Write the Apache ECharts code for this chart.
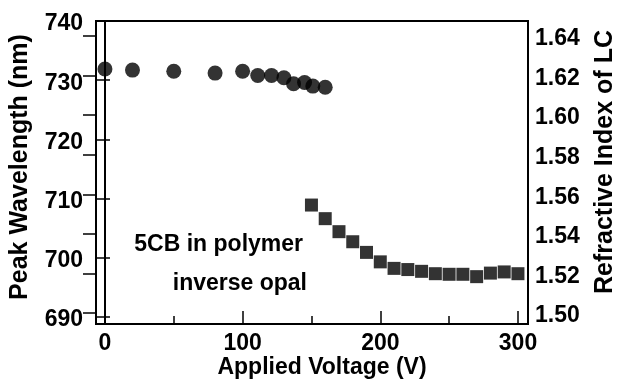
<!DOCTYPE html>
<html>
<head>
<meta charset="utf-8">
<script src="https://cdn.jsdelivr.net/npm/echarts@6/dist/echarts.min.js"></script>
<style>
html,body{margin:0;padding:0;background:#fff;}
#c{width:618px;height:382px;}
</style>
</head>
<body>
<div id="c"></div>
<script>
// Peak wavelength (nm) vs applied voltage (V)
const circleVoltage = [0, 20, 50, 80, 100, 111, 121, 130, 137, 145, 151, 160];
const circleWavelength = [731.9, 731.7, 731.5, 731.2, 731.5, 730.8, 730.8, 730.4, 729.4, 729.6, 729.0, 728.8];
const squareVoltage = [150, 160, 170, 180, 190, 200, 210, 220, 230, 240, 250, 260, 270, 280, 290, 300];
const squareWavelength = [708.9, 706.6, 704.4, 702.7, 700.9, 699.3, 698.2, 698.0, 697.7, 697.3, 697.2, 697.2, 696.8, 697.4, 697.6, 697.3];
// tick label ranges
const xTickRange = [0, 300, 100];        // min, max, interval
const leftTickRange = [690, 740, 10];
const rightTickRange = [1.50, 1.64, 0.02];
const xTitle = 'Applied Voltage (V)';
const leftTitle = 'Peak Wavelength (nm)';
const rightTitle = 'Refractive Index of LC';

const FONT = 'Liberation Sans';
const chart = echarts.init(document.getElementById('c'), null, {renderer: 'canvas'});

const labelStyle = {color: '#000', fontFamily: FONT, fontWeight: 'bold', fontSize: 23};
const hidden = (gi) => ({gridIndex: gi, type: 'value', show: false, min: 0, max: 1});
const tickLine = {color: '#000', width: 1.5};
const titleText = (text, x, y, rot, size) => ({
  type: 'text', x: x, y: y, rotation: rot,
  style: {text: text, fill: '#000', font: 'bold ' + size + 'px "Liberation Sans"', align: 'center', verticalAlign: 'middle'}
});

chart.setOption({
  animation: false,
  backgroundColor: '#fff',
  grid: [
    {left: 96, right: 90, top: 21, bottom: 58, show: true, borderColor: '#000', borderWidth: 2, backgroundColor: 'transparent'},
    {left: 96, right: 90, top: 21, bottom: 65},   // left ticks
    {left: 96, right: 90, top: 36, bottom: 69},   // right ticks
    {left: 105, right: 100, top: 21, bottom: 58}, // x ticks
    {left: 96, right: 90, top: 24, bottom: 62},   // left labels
    {left: 96, right: 90, top: 39, bottom: 66}    // right labels
  ],
  xAxis: [{
    gridIndex: 0, type: 'value', min: -6.5, max: 307.3,
    axisLine: {show: true, lineStyle: {color: '#000', width: 2}},
    axisTick: {show: false}, axisLabel: {show: false}, splitLine: {show: false}
  },
  hidden(1), hidden(2),
  {
    gridIndex: 3, type: 'value', min: xTickRange[0], max: xTickRange[1], interval: xTickRange[2],
    axisLine: {show: false},
    axisTick: {show: true, inside: true, length: 13, lineStyle: tickLine},
    minorTick: {show: true, splitNumber: 2, length: 8, lineStyle: tickLine},
    axisLabel: Object.assign({margin: 8}, labelStyle),
    splitLine: {show: false}
  },
  hidden(4), hidden(5)],
  yAxis: [{
    gridIndex: 0, type: 'value', min: 688.8, max: 740,
    axisLine: {show: true, lineStyle: {color: '#000', width: 2}},
    axisTick: {show: false}, axisLabel: {show: false}, splitLine: {show: false}
  }, {
    gridIndex: 1, type: 'value', position: 'left',
    min: leftTickRange[0], max: leftTickRange[1], interval: leftTickRange[2],
    axisLine: {show: false},
    axisTick: {show: true, inside: true, length: 14, lineStyle: tickLine},
    axisLabel: {show: false},
    splitLine: {show: false}
  }, {
    gridIndex: 2, type: 'value', position: 'right',
    min: rightTickRange[0], max: rightTickRange[1], interval: rightTickRange[2],
    axisLine: {show: false},
    axisTick: {show: true, inside: true, length: 13, lineStyle: tickLine},
    axisLabel: {show: false},
    splitLine: {show: false}
  }, hidden(3), {
    gridIndex: 4, type: 'value', position: 'left',
    min: leftTickRange[0], max: leftTickRange[1], interval: leftTickRange[2],
    axisLine: {show: false}, axisTick: {show: false},
    axisLabel: Object.assign({margin: 13}, labelStyle),
    splitLine: {show: false}
  }, {
    gridIndex: 5, type: 'value', position: 'right',
    min: rightTickRange[0], max: rightTickRange[1], interval: rightTickRange[2],
    axisLine: {show: false}, axisTick: {show: false},
    axisLabel: Object.assign({margin: 7, formatter: v => v.toFixed(2)}, labelStyle),
    splitLine: {show: false}
  }],
  series: [{
    type: 'scatter', xAxisIndex: 0, yAxisIndex: 0,
    symbol: 'circle', symbolSize: 15,
    itemStyle: {color: '#000'},
    data: circleVoltage.map((v, i) => [v, circleWavelength[i]])
  }, {
    type: 'scatter', xAxisIndex: 0, yAxisIndex: 0,
    symbol: 'rect', symbolSize: 13,
    itemStyle: {color: '#000'},
    data: squareVoltage.map((v, i) => [v, squareWavelength[i]])
  }],
  graphic: [
    titleText(xTitle, 322, 368, 0, 23),
    titleText(leftTitle, 20, 167, Math.PI / 2, 25),
    titleText(rightTitle, 605, 162, Math.PI / 2, 25),
    {
      type: 'text', right: 315, top: 233,
      style: {text: '5CB in polymer', fill: '#000', font: 'bold 23px "Liberation Sans"'}
    }, {
      type: 'text', right: 311, top: 272,
      style: {text: 'inverse opal', fill: '#000', font: 'bold 23px "Liberation Sans"'}
    }
  ]
});
</script>
</body>
</html>
